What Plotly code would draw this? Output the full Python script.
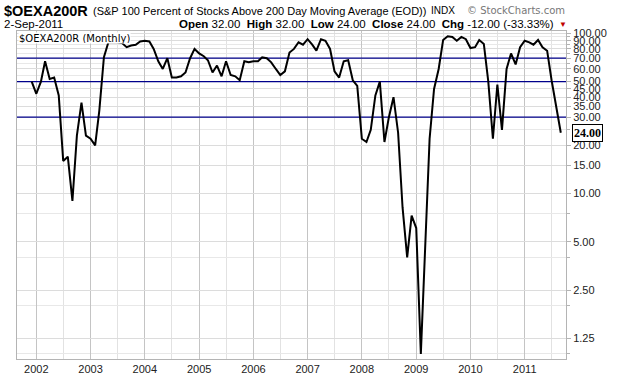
import plotly.graph_objects as go
import pandas as pd
import math

# ---- data (monthly closes) ----
start_month = "2001-12-01"
end_month = "2011-09-01"
values_2001 = [50]
values_2002 = [42, 50, 67, 52, 53, 41, 16, 17, 9, 23, 37, 23]
values_2003 = [22, 20, 33, 71, 88, 88, 88, 87, 82, 84, 85, 89]
values_2004 = [90, 89, 80, 67, 60, 70, 53, 53, 54, 57, 70, 80]
values_2005 = [75, 72, 68, 57, 63, 54, 67, 55, 54, 51, 67, 66]
values_2006 = [67, 67, 71, 70, 66, 60, 55, 58, 76, 80, 88, 85]
values_2007 = [92, 85, 78, 92, 90, 80, 58, 53, 67, 68, 51, 47]
values_2008 = [22, 21, 25, 41, 50, 21, 30, 40, 24, 8.2, 4.0, 7.3]
values_2009 = [6.1, 1.0, 4.0, 22, 45, 60, 91, 96, 95, 90, 95, 92]
values_2010 = [81, 82, 91, 86, 50, 22, 48, 25, 60, 75, 64, 82]
values_2011 = [90, 88, 85, 91, 82, 78, 51, 36, 24]

year_labels = [str(y) for y in range(2002, 2012)]
y_tick_values = [1.25, 2.5, 5, 10, 15, 20, 30, 35, 40, 45, 50, 60, 70, 80, 90, 100]
y_minor_values = [1, 2, 4, 7.5, 25, 55, 65, 75, 85, 95]
ref_levels = [30, 50, 70]
last_close = 24.00

values = (values_2001 + values_2002 + values_2003 + values_2004 + values_2005 +
          values_2006 + values_2007 + values_2008 + values_2009 + values_2010 + values_2011)
dates = pd.date_range(start_month, end_month, freq="MS")

x_range = ["2001-08-24", "2011-10-06"]

# plot area in pixels
L, R, T, B = 17, 566, 31, 359
W, H = 620, 376


def px_x(px):
    return (px - L) / (R - L)


def px_y(py):
    return (B - py) / (B - T)


fig = go.Figure()

for lv in ref_levels:
    fig.add_trace(go.Scatter(x=x_range, y=[lv, lv], mode="lines",
                             line=dict(color="#00008B", width=1.2),
                             hoverinfo="skip", showlegend=False))

fig.add_trace(go.Scatter(x=dates, y=values, mode="lines",
                         line=dict(color="black", width=2),
                         showlegend=False))

fig.update_layout(
    width=W, height=H,
    margin=dict(l=L, r=W - R, t=T, b=H - B, autoexpand=False),
    paper_bgcolor="white", plot_bgcolor="white",
    font=dict(family="Liberation Sans, Arial", size=11, color="#222"),
)

fig.update_xaxes(
    type="date", range=x_range,
    tickmode="array",
    tickvals=[f"{y}-01-01" for y in year_labels],
    ticktext=year_labels,
    showgrid=True, gridcolor="#c4c4c4", gridwidth=1,
    minor=dict(tickmode="array",
               tickvals=[f"{y}-07-01" for y in range(2001, 2012)],
               showgrid=True, gridcolor="#e2e2e2", gridwidth=1),
    showline=True, linecolor="#b4b4b4", mirror=True,
    ticks="", ticklen=0, tickfont=dict(size=11, color="#222"),
    zeroline=False, automargin=False,
)

fig.update_yaxes(
    type="log", side="right",
    range=[-0.032, 2.015],
    tickmode="array",
    tickvals=y_tick_values,
    ticktext=[f"{v:.2f}" for v in y_tick_values],
    showgrid=True, gridcolor="#dcdcdc", gridwidth=1,
    minor=dict(tickmode="array", tickvals=y_minor_values,
               showgrid=True, gridcolor="#e8e8e8", ticks="outside",
               ticklen=3, tickcolor="#b4b4b4"),
    showline=True, linecolor="#b4b4b4", mirror=True,
    ticks="outside", ticklen=4, tickcolor="#b4b4b4",
    tickfont=dict(size=11, color="#222"),
    zeroline=False, automargin=False,
)

ann = []
# header line 1
ann.append(dict(xref="paper", yref="paper", x=px_x(2), y=px_y(11),
                xanchor="left", yanchor="middle", showarrow=False,
                text="<b>$OEXA200R</b>",
                font=dict(family="Liberation Sans, Arial", size=14.5, color="black")))
ann.append(dict(xref="paper", yref="paper", x=px_x(91), y=px_y(11),
                xanchor="left", yanchor="middle", showarrow=False,
                text="(S&P 100 Percent of Stocks Above 200 Day Moving Average (EOD))",
                font=dict(family="Liberation Sans, Arial", size=11, color="black")))
ann.append(dict(xref="paper", yref="paper", x=px_x(429), y=px_y(11),
                xanchor="left", yanchor="middle", showarrow=False,
                text="INDX",
                font=dict(family="Liberation Sans, Arial", size=10, color="black")))
ann.append(dict(xref="paper", yref="paper", x=px_x(567), y=px_y(11),
                xanchor="right", yanchor="middle", showarrow=False,
                text="© StockCharts.com",
                font=dict(family="DejaVu Sans", size=10, color="#777")))
# header line 2
ann.append(dict(xref="paper", yref="paper", x=px_x(2), y=px_y(24),
                xanchor="left", yanchor="middle", showarrow=False,
                text="2-Sep-2011",
                font=dict(family="Liberation Sans, Arial", size=11.5, color="black")))
ann.append(dict(xref="paper", yref="paper", x=px_x(556), y=px_y(24),
                xanchor="right", yanchor="middle", showarrow=False,
                text=("<b>Open</b> 32.00  <b>High</b> 32.00  <b>Low</b> 24.00  "
                      "<b>Close</b> 24.00  <b>Chg</b> -12.00 (-33.33%)"),
                font=dict(family="Liberation Sans, Arial", size=11.5, color="black")))
ann.append(dict(xref="paper", yref="paper", x=px_x(557), y=px_y(24),
                xanchor="left", yanchor="middle", showarrow=False,
                text="▼", font=dict(size=8, color="#c00000")))
# in-plot label
ann.append(dict(xref="paper", yref="paper", x=0.0015, y=0.998,
                xanchor="left", yanchor="top", showarrow=False,
                text="$OEXA200R (Monthly)", bgcolor="white",
                borderpad=0, height=10, valign="middle",
                font=dict(family="DejaVu Sans", size=10, color="black")))
# last value marker
ann.append(dict(xref="paper", yref="y", x=1.0, y=math.log10(last_close),
                xanchor="left", yanchor="middle", showarrow=False, xshift=6,
                text=f"<b>{last_close:.2f}</b>", bgcolor="white",
                bordercolor="black", borderwidth=1, borderpad=1,
                font=dict(family="Liberation Serif", size=12, color="black")))

fig.update_layout(annotations=ann)

fig.write_html("out.html", config={"displayModeBar": False},
               post_script="document.body.style.margin='0';document.body.style.overflow='hidden';")
